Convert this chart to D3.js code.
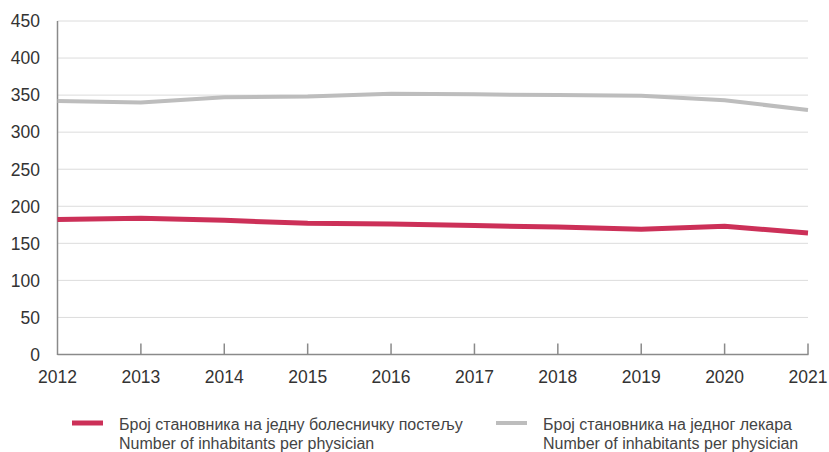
<!DOCTYPE html>
<html><head><meta charset="utf-8">
<script src="https://cdn.jsdelivr.net/npm/d3@7"></script>
<style>body{margin:0;background:#fff}svg{display:block}text{font-family:"Liberation Sans",Arial,sans-serif}</style>
</head><body><svg id="c" width="829" height="452"></svg>
<script>
const years = [2012,2013,2014,2015,2016,2017,2018,2019,2020,2021];
const bedValues = [182,184,181,177,176,174,172,169,173,164];
const physicianValues = [342,340,347,348,352,351,350,349,343,330];
const yTicks = [0,50,100,150,200,250,300,350,400,450];
const legendLabels = [
  ["Број становника на једну болесничку постељу","Number of inhabitants per physician"],
  ["Број становника на једног лекара","Number of inhabitants per physician"]
];
const colors = ["#cc3058","#bdbdbd"];

const svg = d3.select("#c");
const x = d3.scaleLinear().domain([2012,2021]).range([57.5,808]);
const y = d3.scaleLinear().domain([0,450]).range([354.5,21]);

// gridlines
svg.append("g").selectAll("line").data(yTicks.filter(d=>d>0)).join("line")
  .attr("x1",57.5).attr("x2",808).attr("y1",d=>y(d)).attr("y2",d=>y(d))
  .attr("stroke","#dcdcdc").attr("stroke-width",1);

// y axis labels
svg.append("g").selectAll("text").data(yTicks).join("text")
  .attr("x",40).attr("y",d=>y(d)+6.3).attr("text-anchor","end")
  .attr("font-size",17.5).attr("fill","#333").text(d=>d);

// axes lines
svg.append("line").attr("x1",57.5).attr("x2",57.5).attr("y1",y(450)).attr("y2",y(0)+0.5).attr("stroke","#8a8a8a").attr("stroke-width",1.5);
svg.append("line").attr("x1",57.5).attr("x2",808.5).attr("y1",y(0)).attr("y2",y(0)).attr("stroke","#8a8a8a").attr("stroke-width",1.5);
svg.append("g").selectAll("line").data(years.slice(1)).join("line")
  .attr("x1",d=>x(d)).attr("x2",d=>x(d)).attr("y1",y(0)).attr("y2",y(0)-11)
  .attr("stroke","#8a8a8a").attr("stroke-width",1.5);

// x labels
svg.append("g").selectAll("text").data(years).join("text")
  .attr("x",d=>x(d)).attr("y",383).attr("text-anchor","middle")
  .attr("font-size",17.5).attr("fill","#333").text(d=>d);

// lines
const line = d3.line().x((d,i)=>x(years[i])).y(d=>y(d));
svg.append("path").datum(physicianValues).attr("d",line).attr("fill","none")
  .attr("stroke",colors[1]).attr("stroke-width",4);
svg.append("path").datum(bedValues).attr("d",line).attr("fill","none")
  .attr("stroke",colors[0]).attr("stroke-width",5);

// legend
const lx = [72,496];
legendLabels.forEach((lab,i)=>{
  const g = svg.append("g");
  g.append("line").attr("x1",lx[i]).attr("x2",lx[i]+31).attr("y1",423).attr("y2",423)
    .attr("stroke",colors[i]).attr("stroke-width",i===0?5:4);
  g.append("text").attr("x",lx[i]+47).attr("y",430).attr("font-size",16).attr("fill","#444").text(lab[0]);
  g.append("text").attr("x",lx[i]+47).attr("y",449).attr("font-size",16).attr("fill","#444").text(lab[1]);
});
</script></body></html>
